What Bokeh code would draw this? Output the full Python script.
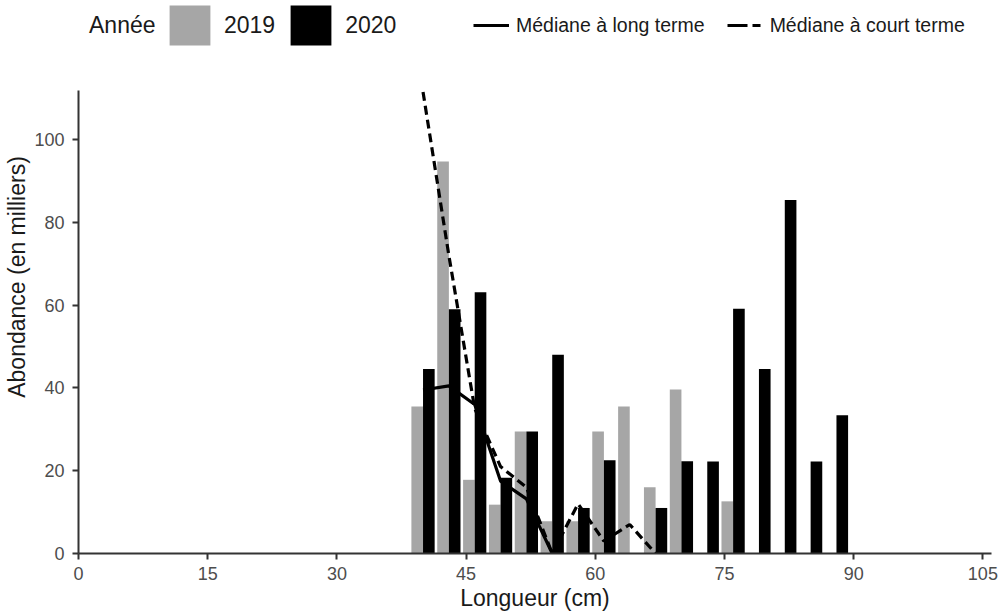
from bokeh.plotting import figure
from bokeh.models import ColumnDataSource, Legend, LegendItem, Range1d
from bokeh.transform import dodge
from bokeh.embed import file_html
from bokeh.resources import INLINE

# ---- data ----
length_bins = [40, 43, 46, 49, 52, 55, 58, 61, 64, 67, 70, 73, 76, 79, 82, 85, 88]
abund_2019 = [35.5, 94.7, 17.8, 11.8, 29.5, 7.8, 7.8, 29.5, 35.5, 16.0, 39.6, 0, 12.6, 0, 0, 0, 0]
abund_2020 = [44.6, 59.0, 63.1, 18.3, 29.5, 48.0, 11.0, 22.5, 0, 11.0, 22.3, 22.2, 59.1, 44.6, 85.4, 22.2, 33.4]
median_long_x = [40, 43, 46, 49, 52, 55]
median_long_y = [39.5, 40.5, 36.0, 17.5, 13.2, 0]
median_short_x = [40, 43, 46, 49, 52, 55, 58, 61, 64, 67]
median_short_y = [111.5, 72.0, 35.0, 21.0, 16.0, 0, 12.0, 3.0, 7.0, 0]
x_ticks = [0, 15, 30, 45, 60, 75, 90, 105]
y_ticks = [0, 20, 40, 60, 80, 100]
legend_title = "Année"
years = ["2019", "2020"]
line_labels = ["Médiane à long terme", "Médiane à court terme"]

FONT = "Liberation Sans"
GRAY = "#a6a6a6"
AXIS = "#333333"
TXT = "#1a1a1a"
NAN = float("nan")

Y_AXIS_TOP = 111.8     # top of the drawn value axis
Y_VIEW_TOP = 133.6     # extra room above the axis holds the legend

src = ColumnDataSource(dict(x=length_bins, y2019=abund_2019, y2020=abund_2020))

p = figure(width=1003, height=613, output_backend="svg", toolbar_location=None,
           x_range=Range1d(0, 106.0), y_range=Range1d(0, Y_VIEW_TOP),
           min_border_left=78, min_border_right=12, min_border_top=0, min_border_bottom=60)
p.outline_line_color = None
p.grid.visible = False
p.background_fill_color = "white"

BW = 1.35
r19 = p.vbar(x=dodge("x", -BW / 2, range=p.x_range), top="y2019", width=BW, source=src,
             fill_color=GRAY, line_color=None)
r20 = p.vbar(x=dodge("x", BW / 2, range=p.x_range), top="y2020", width=BW, source=src,
             fill_color="black", line_color=None)

rl = p.line(median_long_x, median_long_y, line_color="black", line_width=3.2)
rs = p.line(median_short_x, median_short_y, line_color="black", line_width=3.2, line_dash="9 5")
# legend-only renderers (a single NaN point: nothing is drawn in the plot)
rs_key = p.line(x=[NAN], y=[NAN], line_color="black", line_width=3.2, line_dash="20 5 8 20")
title_key = p.line(x=[NAN], y=[NAN], line_alpha=0)

# axes
for ax in (p.xaxis[0], p.yaxis[0]):
    ax.axis_line_width = 2
    ax.axis_line_color = AXIS
    ax.major_tick_line_width = 2
    ax.major_tick_line_color = AXIS
    ax.major_tick_out = 6
    ax.major_tick_in = 0
    ax.minor_tick_out = 0
    ax.minor_tick_in = 0
    ax.major_label_text_font = FONT
    ax.major_label_text_font_size = "18px"
    ax.major_label_text_color = "#4d4d4d"
    ax.axis_label_text_font = FONT
    ax.axis_label_text_font_size = "23px"
    ax.axis_label_text_font_style = "normal"
    ax.axis_label_text_color = TXT

p.yaxis.bounds = (0, Y_AXIS_TOP)
p.xaxis.ticker = x_ticks
p.yaxis.ticker = y_ticks
p.xaxis.axis_label = "Longueur (cm)"
p.yaxis.axis_label = "Abondance (en milliers)"
p.xaxis.major_label_standoff = 7
p.yaxis.major_label_standoff = 8
p.xaxis.axis_label_standoff = 2
p.yaxis.axis_label_standoff = 1

common = dict(orientation="horizontal", padding=0, margin=0,
              background_fill_alpha=0, border_line_alpha=0, label_text_font=FONT,
              label_text_color=TXT, glyph_height=50)

leg0 = Legend(items=[LegendItem(label=legend_title, renderers=[title_key])],
              location=(11, 503), glyph_width=0, label_standoff=0,
              label_text_font_size="23px", **common)
leg1 = Legend(items=[LegendItem(label=years[0], renderers=[r19]),
                     LegendItem(label=years[1], renderers=[r20])],
              location=(86, 503), glyph_width=51, label_standoff=9, spacing=10,
              label_text_font_size="23px", **common)
leg2 = Legend(items=[LegendItem(label=line_labels[0], renderers=[rl]),
                     LegendItem(label=line_labels[1], renderers=[rs_key])],
              location=(395, 503), glyph_width=36, label_standoff=7, spacing=22,
              label_text_font_size="19.5px", **common)
p.add_layout(leg0)
p.add_layout(leg1)
p.add_layout(leg2)

open("out.html", "w").write(file_html(p, INLINE))
